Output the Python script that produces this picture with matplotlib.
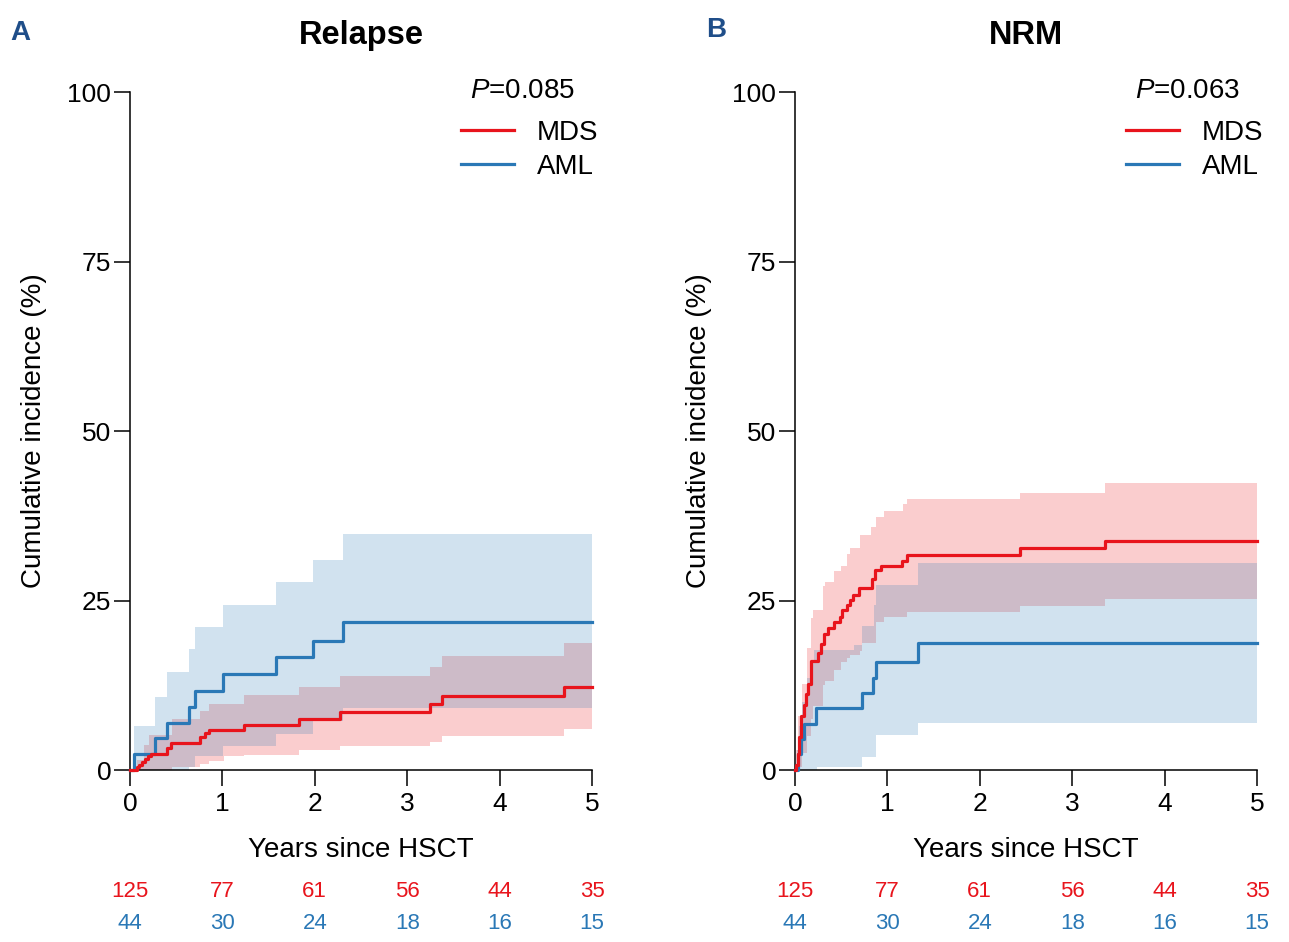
import matplotlib.pyplot as plt

plt.rcParams['font.family'] = ['Liberation Sans', 'DejaVu Sans']
plt.rcParams['mathtext.fontset'] = 'custom'
plt.rcParams['mathtext.rm'] = 'Liberation Sans'
plt.rcParams['mathtext.it'] = 'Liberation Sans:italic'

# ---- data (years, %) ----
# A: Relapse
rel_mds_t = [0, 0.08, 0.10, 0.13, 0.16, 0.20, 0.23, 0.40, 0.44, 0.76, 0.81, 0.86, 1.23, 1.83, 2.27, 3.25, 3.38, 4.70, 5.0]
rel_mds_v = [0, 0.4, 0.8, 1.2, 1.6, 2.0, 2.4, 3.2, 4.0, 4.8, 5.4, 5.9, 6.7, 7.5, 8.6, 9.7, 10.9, 12.3, 12.3]
rel_mds_ci_t = [0, 0.08, 0.15, 0.21, 0.45, 0.65, 0.76, 0.85, 1.02, 1.23, 1.83, 2.27, 3.25, 3.38, 4.70, 5.0]
rel_mds_lo = [0, 0, 0, 0, 0.4, 0.4, 0.9, 1.4, 2.0, 2.2, 2.9, 3.5, 4.2, 5.0, 6.0, 6.0]
rel_mds_hi = [0, 1.5, 3.7, 5.1, 7.5, 7.5, 8.7, 9.8, 9.8, 11.0, 12.3, 13.8, 15.2, 16.8, 18.8, 18.8]

rel_aml_t = [0, 0.04, 0.27, 0.40, 0.64, 0.70, 1.01, 1.58, 1.98, 2.30, 5.0]
rel_aml_v = [0, 2.3, 4.7, 7.0, 9.3, 11.7, 14.1, 16.6, 19.1, 21.9, 21.9]
rel_aml_lo = [0, 0, 0, 0, 0.4, 2.0, 3.6, 5.3, 7.3, 9.2, 9.2]
rel_aml_hi = [0, 6.5, 10.8, 14.4, 17.9, 21.1, 24.4, 27.7, 31.0, 34.8, 34.8]

# B: NRM
nrm_mds_t = [0, 0.015, 0.03, 0.045, 0.07, 0.10, 0.12, 0.145, 0.17, 0.25, 0.28, 0.31, 0.36, 0.42,
             0.49, 0.51, 0.56, 0.59, 0.63, 0.69, 0.83, 0.87, 0.93, 1.16, 1.21, 2.44, 3.35, 5.0]
nrm_mds_v = [0, 0.8, 2.4, 4.8, 8.0, 9.6, 11.2, 12.7, 16.1, 17.2, 18.6, 20.1, 21.0, 21.8,
             22.5, 23.6, 24.4, 25.1, 25.8, 26.8, 28.1, 29.5, 30.1, 30.8, 31.7, 32.7, 33.8, 33.8]
nrm_mds_ci_t = [0, 0.015, 0.036, 0.08, 0.13, 0.17, 0.20, 0.30, 0.33, 0.42, 0.50, 0.56,
                0.60, 0.70, 0.73, 0.82, 0.88, 0.96, 1.17, 1.21, 2.44, 3.35, 5.0]
nrm_mds_lo = [0, 0, 0.5, 2.5, 5.0, 7.5, 9.5, 12.5, 13.2, 14.8, 16.0, 16.5,
              17.0, 17.6, 18.8, 18.8, 21.8, 22.5, 22.5, 23.3, 24.2, 25.2, 25.2]
nrm_mds_hi = [0, 3.0, 8.0, 12.7, 18.0, 22.4, 23.6, 27.1, 27.8, 29.4, 30.1, 31.8,
              32.7, 34.6, 34.6, 35.8, 37.3, 38.2, 39.3, 39.9, 40.9, 42.3, 42.3]

nrm_aml_t = [0, 0.03, 0.06, 0.10, 0.23, 0.73, 0.84, 0.88, 1.33, 5.0]
nrm_aml_v = [0, 2.3, 4.5, 6.8, 9.1, 11.4, 13.6, 16.0, 18.7, 18.7]
nrm_aml_ci_t = [0, 0.02, 0.04, 0.08, 0.13, 0.17, 0.21, 0.24, 0.64, 0.73, 0.85, 0.88, 1.33, 5.0]
nrm_aml_lo = [0, 0, 0, 0, 0, 0, 0, 0.5, 0.5, 1.9, 1.9, 5.2, 7.0, 7.0]
nrm_aml_hi = [0, 3.0, 6.5, 10.0, 13.5, 16.0, 17.7, 17.7, 18.5, 21.2, 24.4, 27.3, 30.5, 30.5]

# numbers at risk (same in both panels)
risk_years = [0, 1, 2, 3, 4, 5]
risk_mds = [125, 77, 61, 56, 44, 35]
risk_aml = [44, 30, 24, 18, 16, 15]

RED = '#e8141c'
BLUE = '#2a78b6'

W, H = 1289, 942
fig = plt.figure(figsize=(W / 100, H / 100), dpi=100)
ax_a = fig.add_axes([130 / W, 1 - 770 / H, 462 / W, 678 / H])
ax_b = fig.add_axes([795 / W, 1 - 770 / H, 462 / W, 678 / H])


def draw_panel(ax, title, pval, mds, aml):
    m_t, m_v, m_ct, m_lo, m_hi = mds
    a_t, a_v, a_ct, a_lo, a_hi = aml

    ax.fill_between(m_ct, m_lo, m_hi, step='post', color=RED, alpha=0.21, lw=0)
    ax.fill_between(a_ct, a_lo, a_hi, step='post', color=BLUE, alpha=0.21, lw=0)
    l_aml, = ax.step(a_t, a_v, where='post', color=BLUE, lw=2.3, clip_on=False, zorder=3)
    l_mds, = ax.step(m_t, m_v, where='post', color=RED, lw=2.3, clip_on=False, zorder=4)

    ax.set_xlim(0, 5)
    ax.set_ylim(0, 100)
    ax.set_xticks(risk_years)
    ax.set_yticks([0, 25, 50, 75, 100])
    for s in ['top', 'right']:
        ax.spines[s].set_visible(False)
    for s in ['left', 'bottom']:
        ax.spines[s].set_linewidth(1.1)
    ax.tick_params(length=11.5, width=1.1, labelsize=19)
    ax.tick_params(axis='x', pad=4.5)
    ax.tick_params(axis='y', pad=2)

    ax.set_xlabel('Years since HSCT', fontsize=20, labelpad=15)
    ax.set_ylabel('Cumulative incidence (%)', fontsize=20, labelpad=15)
    ax.set_title(title, fontsize=23.5, fontweight='bold', y=1.071, pad=0)

    ax.text(0.736, 1.001, '$P$=' + pval, transform=ax.transAxes,
            fontsize=20, va='center', ha='left')
    ax.legend([l_mds, l_aml], ['MDS', 'AML'], loc='upper left',
              bbox_to_anchor=(0.716, 0.959), frameon=False, fontsize=20,
              handlelength=1.9, handletextpad=0.85, borderpad=0,
              borderaxespad=0, labelspacing=0.28)

    tr = ax.get_xaxis_transform()
    for x, nm, na in zip(risk_years, risk_mds, risk_aml):
        ax.text(x, -0.179, str(nm), transform=tr, color=RED, fontsize=16,
                ha='center', va='center', clip_on=False)
        ax.text(x, -0.227, str(na), transform=tr, color=BLUE, fontsize=16,
                ha='center', va='center', clip_on=False)


draw_panel(ax_a, 'Relapse', '0.085',
           (rel_mds_t, rel_mds_v, rel_mds_ci_t, rel_mds_lo, rel_mds_hi),
           (rel_aml_t, rel_aml_v, rel_aml_t, rel_aml_lo, rel_aml_hi))
draw_panel(ax_b, 'NRM', '0.063',
           (nrm_mds_t, nrm_mds_v, nrm_mds_ci_t, nrm_mds_lo, nrm_mds_hi),
           (nrm_aml_t, nrm_aml_v, nrm_aml_ci_t, nrm_aml_lo, nrm_aml_hi))

fig.text(10 / W, 1 - 40 / H, 'A', fontsize=20, fontweight='bold', color='#1f4e89')
fig.text(706 / W, 1 - 37 / H, 'B', fontsize=20, fontweight='bold', color='#1f4e89')

fig.savefig('out.png', dpi=100)
